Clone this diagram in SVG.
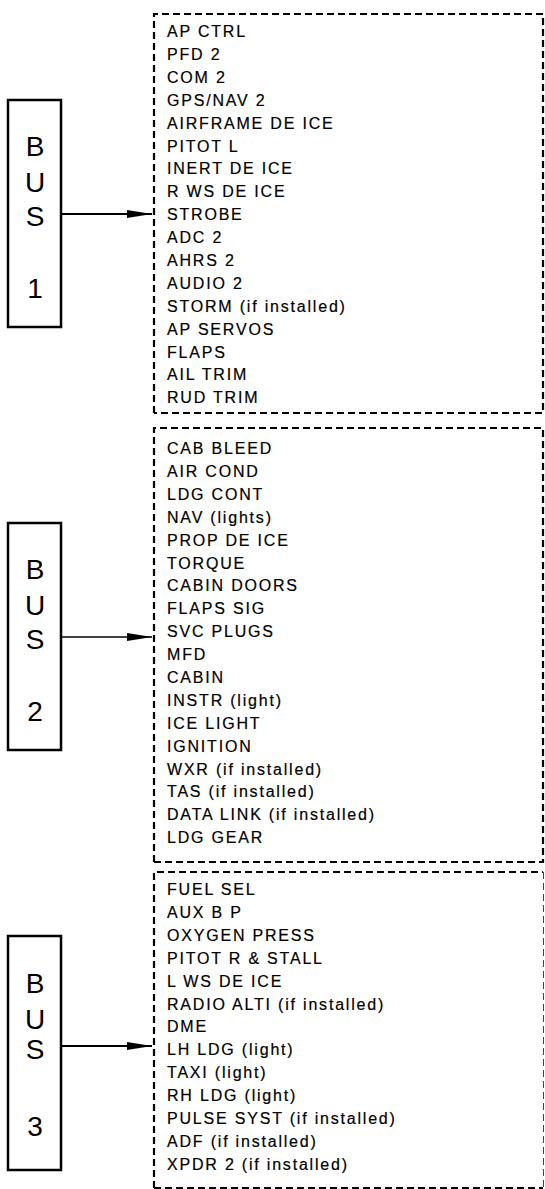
<svg xmlns="http://www.w3.org/2000/svg" width="545" height="1189" viewBox="0 0 545 1189">
  <style>
    .bus { fill: #fff; stroke: #000; stroke-width: 2.5; }
    .busText { font-family: "Liberation Sans", Arial, sans-serif; font-size: 28px; fill: #000; text-anchor: middle; }
    .group { fill: none; stroke: #000; stroke-width: 2.2; stroke-dasharray: 7 4; }
    .thinEdge { fill: none; stroke: #444; stroke-width: 1; stroke-dasharray: 7 4; }
    .item { font-family: "Liberation Sans", Arial, sans-serif; font-size: 16px; letter-spacing: 1.8px; fill: #000; stroke: #000; stroke-width: 0.2; }
    .feed { stroke: #000; fill: none; }
  </style>
  <defs>
    <marker id="head" markerUnits="userSpaceOnUse" markerWidth="26" markerHeight="10" refX="25" refY="4.5" orient="auto">
      <path d="M0,0.5 L25,4.5 L0,8.5 z" fill="#000"/>
    </marker>
  </defs>
  <rect width="545" height="1189" fill="#fff"/>

  <!-- Bus 1 and its loads -->
  <g id="bus1">
    <rect class="bus" x="8" y="100" width="53" height="227"/>
    <text class="busText" x="35" y="156">B</text>
    <text class="busText" x="35" y="192">U</text>
    <text class="busText" x="35" y="226">S</text>
    <text class="busText" x="35" y="298">1</text>
  </g>
  <g id="loads1">
    <path class="group" d="M154,413 V14 H543 V413 H154"/>
    <text class="item" x="167" y="37">AP CTRL<tspan x="167" dy="22.9">PFD 2</tspan><tspan x="167" dy="22.9">COM 2</tspan><tspan x="167" dy="22.9">GPS/NAV 2</tspan><tspan x="167" dy="22.9">AIRFRAME DE ICE</tspan><tspan x="167" dy="22.9">PITOT L</tspan><tspan x="167" dy="22.9">INERT DE ICE</tspan><tspan x="167" dy="22.9">R WS DE ICE</tspan><tspan x="167" dy="22.9">STROBE</tspan><tspan x="167" dy="22.9">ADC 2</tspan><tspan x="167" dy="22.9">AHRS 2</tspan><tspan x="167" dy="22.9">AUDIO 2</tspan><tspan x="167" dy="22.9">STORM (if installed)</tspan><tspan x="167" dy="22.9">AP SERVOS</tspan><tspan x="167" dy="22.9">FLAPS</tspan><tspan x="167" dy="22.9">AIL TRIM</tspan><tspan x="167" dy="22.9">RUD TRIM</tspan></text>
  </g>

  <!-- Bus 2 and its loads -->
  <g id="bus2">
    <rect class="bus" x="8" y="523" width="53" height="227"/>
    <text class="busText" x="35" y="579">B</text>
    <text class="busText" x="35" y="615">U</text>
    <text class="busText" x="35" y="649">S</text>
    <text class="busText" x="35" y="721">2</text>
  </g>
  <g id="loads2">
    <path class="group" d="M154,862 V428 H543 V862 H154"/>
    <text class="item" x="167" y="454">CAB BLEED<tspan x="167" dy="22.9">AIR COND</tspan><tspan x="167" dy="22.9">LDG CONT</tspan><tspan x="167" dy="22.9">NAV (lights)</tspan><tspan x="167" dy="22.9">PROP DE ICE</tspan><tspan x="167" dy="22.9">TORQUE</tspan><tspan x="167" dy="22.9">CABIN DOORS</tspan><tspan x="167" dy="22.9">FLAPS SIG</tspan><tspan x="167" dy="22.9">SVC PLUGS</tspan><tspan x="167" dy="22.9">MFD</tspan><tspan x="167" dy="22.9">CABIN</tspan><tspan x="167" dy="22.9">INSTR (light)</tspan><tspan x="167" dy="22.9">ICE LIGHT</tspan><tspan x="167" dy="22.9">IGNITION</tspan><tspan x="167" dy="22.9">WXR (if installed)</tspan><tspan x="167" dy="22.9">TAS (if installed)</tspan><tspan x="167" dy="22.9">DATA LINK (if installed)</tspan><tspan x="167" dy="22.9">LDG GEAR</tspan></text>
  </g>

  <!-- Bus 3 and its loads -->
  <g id="bus3">
    <rect class="bus" x="8" y="936" width="53" height="234"/>
    <text class="busText" x="35" y="993">B</text>
    <text class="busText" x="35" y="1029">U</text>
    <text class="busText" x="35" y="1059">S</text>
    <text class="busText" x="35" y="1136">3</text>
  </g>
  <g id="loads3">
    <path class="group" d="M154,1188 V872 H543"/>
    <path class="group" d="M154,1188 H543"/>
    <path class="thinEdge" d="M543.5,872 V1188"/>
    <text class="item" x="167" y="895">FUEL SEL<tspan x="167" dy="22.9">AUX B P</tspan><tspan x="167" dy="22.9">OXYGEN PRESS</tspan><tspan x="167" dy="22.9">PITOT R &amp; STALL</tspan><tspan x="167" dy="22.9">L WS DE ICE</tspan><tspan x="167" dy="22.9">RADIO ALTI (if installed)</tspan><tspan x="167" dy="22.9">DME</tspan><tspan x="167" dy="22.9">LH LDG (light)</tspan><tspan x="167" dy="22.9">TAXI (light)</tspan><tspan x="167" dy="22.9">RH LDG (light)</tspan><tspan x="167" dy="22.9">PULSE SYST (if installed)</tspan><tspan x="167" dy="22.9">ADF (if installed)</tspan><tspan x="167" dy="22.9">XPDR 2 (if installed)</tspan></text>
  </g>

  <!-- Feeds from each bus to its load group -->
  <g id="connectors">
    <line class="feed" x1="61" y1="214" x2="152" y2="214" stroke-width="2" marker-end="url(#head)"/>
    <line class="feed" x1="61" y1="637" x2="152" y2="637" stroke-width="1.3" marker-end="url(#head)"/>
    <line class="feed" x1="61" y1="1046" x2="152" y2="1046" stroke-width="2" marker-end="url(#head)"/>
  </g>
</svg>
